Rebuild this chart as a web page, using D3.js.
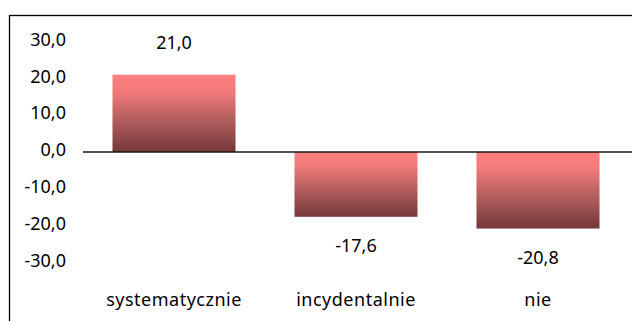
<!DOCTYPE html>
<html>
<head>
<meta charset="utf-8">
<script src="https://cdn.jsdelivr.net/npm/d3@7"></script>
<style>
  html, body { margin: 0; padding: 0; background: #fff; }
  svg { display: block; }
  text { font-family: "Noto Sans", "DejaVu Sans", sans-serif; fill: #000; }
</style>
</head>
<body>
<svg id="chart" width="632" height="321"></svg>
<script>
// Chart data
const categories = ["systematycznie", "incydentalnie", "nie"];
const values = [21.0, -17.6, -20.8];
const yTicks = [30, 20, 10, 0, -10, -20, -30];

const W = 632, H = 321;
const FS = 18;
const svg = d3.select("#chart");

// Polish number format: comma as decimal separator, plain hyphen as minus
const pl = d3.formatLocale({ decimal: ",", thousands: " ", grouping: [3], currency: ["", " zł"], minus: "-" });
const fmt = pl.format(".1f");

// Outer chart frame (right and bottom edges run past the canvas)
svg.append("rect")
  .attr("x", 9.5).attr("y", 15.5)
  .attr("width", 640).attr("height", 330)
  .attr("fill", "#fff")
  .attr("stroke", "#000")
  .attr("stroke-width", 1.3);

// Scales
const x = d3.scaleBand()
  .domain(categories)
  .range([83, 629])
  .paddingInner(0.324)
  .paddingOuter(0.162);

const y = d3.scaleLinear()
  .domain([-30, 30])
  .range([262.4, 41.6]);

// Vertical gradient for the bars: light coral on top, dark maroon at the bottom
const defs = svg.append("defs");
const grad = defs.append("linearGradient")
  .attr("id", "barGrad")
  .attr("x1", 0).attr("y1", 0).attr("x2", 0).attr("y2", 1);
[["0%", "#ff7f7f"], ["22%", "#f27a7a"], ["60%", "#b05c5c"], ["100%", "#753838"]]
  .forEach(([o, c]) => grad.append("stop").attr("offset", o).attr("stop-color", c));

// Y axis: labels only
const yAxis = svg.append("g")
  .attr("transform", "translate(66,0)")
  .call(d3.axisLeft(y).tickValues(yTicks).tickSize(0).tickPadding(0).tickFormat(fmt));
yAxis.select(".domain").remove();
yAxis.selectAll("text")
  .attr("font-size", FS)
  .attr("dy", "0.2em")
  .style("font-family", "'Noto Sans', 'DejaVu Sans', sans-serif")
  .attr("fill", "#000");

// Bars
svg.append("g").selectAll("rect")
  .data(categories)
  .join("rect")
  .attr("x", d => x(d))
  .attr("width", x.bandwidth())
  .attr("y", (d, i) => Math.min(y(values[i]), y(0)))
  .attr("height", (d, i) => Math.abs(y(values[i]) - y(0)))
  .attr("fill", "url(#barGrad)");

// Zero baseline
svg.append("line")
  .attr("x1", 83).attr("x2", 640)
  .attr("y1", y(0)).attr("y2", y(0))
  .attr("stroke", "#1a1a1a")
  .attr("stroke-width", 1.6);

// Value labels, outside the bar end
svg.append("g").selectAll("text")
  .data(categories)
  .join("text")
  .attr("x", d => x(d) + x.bandwidth() / 2)
  .attr("y", (d, i) => values[i] >= 0 ? y(values[i]) - 32 : y(values[i]) + 29)
  .attr("dy", "0.35em")
  .attr("text-anchor", "middle")
  .attr("font-size", FS)
  .text((d, i) => fmt(values[i]));

// Category labels
svg.append("g").selectAll("text")
  .data(categories)
  .join("text")
  .attr("x", d => x(d) + x.bandwidth() / 2)
  .attr("y", 300)
  .attr("dy", "0.35em")
  .attr("text-anchor", "middle")
  .attr("font-size", FS)
  .attr("letter-spacing", 0.5)
  .text(d => d);
</script>
</body>
</html>
